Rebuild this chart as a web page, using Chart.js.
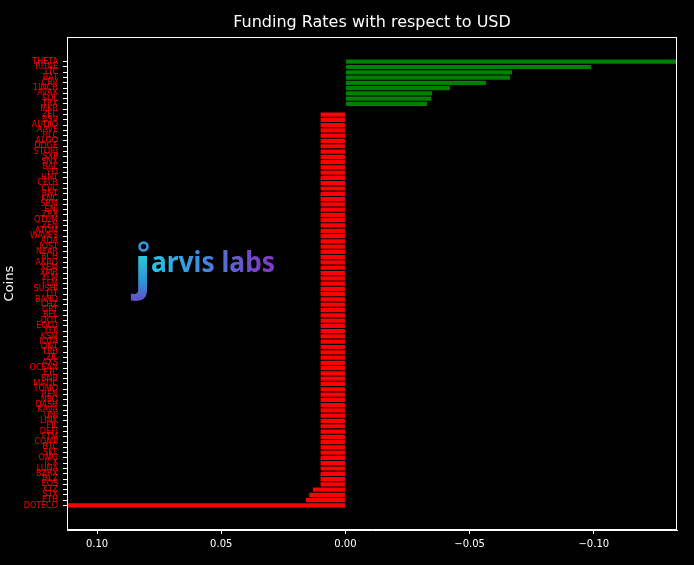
<!DOCTYPE html>
<html>
<head>
<meta charset="utf-8">
<script src="https://cdn.jsdelivr.net/npm/chart.js@4"></script>
<style>
  html, body { margin: 0; padding: 0; background: #000; }
  #wrap { width: 694px; height: 565px; }
</style>
</head>
<body>
<div id="wrap"><canvas id="chartFunding"></canvas></div>
<script>
const coins = ['THETA','RUNE','LTC','BAT','CRV','1INCH','AVAX','SOL','TRX','MKR',
  'ZEC','BSV','AUDIO','AAVE','RLC','ALGO','DOGE','STORJ','SXP','SNX',
  'BAL','YFI','HNT','CELR','CVC','BNT','KNC','SRM','ENJ','ZRX',
  'QTUM','ZEN','ATOM','WAVES','ADA','IOST','NEAR','BCH','AKRO','XEM',
  'XMR','XLM','FLM','SUSHI','LIT','BAND','CHZ','GRT','BEL','DOT',
  'EGLD','YFII','KSM','IOTA','ONT','TRB','ZIL','AXS','OCEAN','ETC',
  'BNB','MATIC','TOMO','REN','NEO','DASH','KAVA','UNI','LINK','FIL',
  'DEFI','FTM','COMP','BTC','SKL','OMG','ICX','LUNA','BZRX','BLZ',
  'EOS','XTZ','STX','ETH','DOTECO'];

const rates = [-0.1335, -0.0989, -0.0671, -0.0663, -0.0566, -0.0421, -0.0349, -0.0345, -0.0329, 0,
  0.01, 0.01, 0.01, 0.01, 0.01, 0.01, 0.01, 0.01, 0.01, 0.01,
  0.01, 0.01, 0.01, 0.01, 0.01, 0.01, 0.01, 0.01, 0.01, 0.01,
  0.01, 0.01, 0.01, 0.01, 0.01, 0.01, 0.01, 0.01, 0.01, 0.01,
  0.01, 0.01, 0.01, 0.01, 0.01, 0.01, 0.01, 0.01, 0.01, 0.01,
  0.01, 0.01, 0.01, 0.01, 0.01, 0.01, 0.01, 0.01, 0.01, 0.01,
  0.01, 0.01, 0.01, 0.01, 0.01, 0.01, 0.01, 0.01, 0.01, 0.01,
  0.01, 0.01, 0.01, 0.01, 0.01, 0.01, 0.01, 0.01, 0.01, 0.01,
  0.01, 0.0131, 0.0146, 0.0159, 0.1121];

const xTicks = [0.10, 0.05, 0.00, -0.05, -0.10];

// white box around the plot, like the matplotlib spines
const frame = {
  id: 'frame',
  afterDatasetsDraw(chart) {
    const a = chart.chartArea, c = chart.ctx;
    c.save();
    c.strokeStyle = '#fff';
    c.lineWidth = 1;
    c.strokeRect(Math.round(a.left) + 0.5, Math.round(a.top) + 0.5,
      Math.round(a.right - a.left) - 1, Math.round(a.bottom - a.top) - 1);
    c.restore();
  }
};

// "jarvis labs" watermark
const logo = {
  id: 'logo',
  afterDatasetsDraw(chart) {
    const c = chart.ctx;
    c.save();
    const g = c.createLinearGradient(150, 0, 276, 0);
    g.addColorStop(0, '#22d0e8');
    g.addColorStop(0.5, '#3b8ee0');
    g.addColorStop(1, '#7b3ec4');
    c.fillStyle = g;
    c.font = 'bold 28px "Noto Sans"';
    c.textBaseline = 'alphabetic';
    c.fillText('arvis labs', 151, 272, 124);
    const gj = c.createLinearGradient(0, 255, 0, 302);
    gj.addColorStop(0, '#2ac6d8');
    gj.addColorStop(0.6, '#2f8fd8');
    gj.addColorStop(1, '#6a48c8');
    c.fillStyle = gj;
    c.font = 'bold 58px "Noto Sans"';
    c.fillText('\u0237', 134, 287);
    c.beginPath();
    c.arc(143.5, 246.5, 4, 0, Math.PI * 2);
    c.strokeStyle = '#2f9ee6';
    c.lineWidth = 2.5;
    c.stroke();
    c.restore();
  }
};

new Chart(document.getElementById('chartFunding'), {
  type: 'bar',
  data: {
    datasets: [{
      data: rates.map((v, i) => ({ x: v, y: i })),
      backgroundColor: rates.map(v => v < 0 ? 'green' : 'red'),
      borderWidth: 0,
      barPercentage: 0.8,
      categoryPercentage: 1.0
    }]
  },
  options: {
    indexAxis: 'y',
    responsive: true,
    maintainAspectRatio: false,
    animation: false,
    layout: { padding: { left: 0, right: 17, top: 0, bottom: 0 } },
    plugins: {
      legend: { display: false },
      tooltip: { enabled: false },
      title: {
        display: true,
        text: 'Funding Rates with respect to USD',
        color: '#fff',
        fullSize: false,
        font: { family: 'DejaVu Sans', size: 16, weight: 'normal' },
        padding: { top: 13, bottom: 5 }
      }
    },
    scales: {
      x: {
        type: 'linear',
        reverse: true,
        min: -0.1335,
        max: 0.1121,
        afterBuildTicks: s => { s.ticks = xTicks.map(v => ({ value: v })); },
        afterFit: s => { s.height = 35; },
        grid: { drawOnChartArea: false, drawTicks: true, tickLength: 4, color: '#fff' },
        border: { color: '#fff' },
        ticks: {
          color: '#fff',
          padding: 4,
          font: { family: 'DejaVu Sans', size: 10 },
          callback: v => (v < 0 ? '\u2212' : '') + Math.abs(v).toFixed(2)
        }
      },
      y: {
        type: 'linear',
        reverse: true,
        offset: false,
        min: -4.64,
        max: coins.length - 1 + 4.64,
        afterBuildTicks: s => { s.ticks = coins.map((c, i) => ({ value: i })); },
        afterFit: s => { s.width = 67; },
        grid: { offset: false, drawOnChartArea: false, drawTicks: true, tickLength: 4, color: '#fff' },
        border: { color: '#fff' },
        title: {
          display: true,
          text: 'Coins',
          color: '#fff',
          font: { family: 'DejaVu Sans', size: 13 },
          padding: { top: 2, bottom: 0 }
        },
        ticks: {
          color: 'red',
          autoSkip: false,
          padding: 5,
          font: { family: 'DejaVu Sans', size: 8 },
          callback: v => coins[v]
        }
      }
    }
  },
  plugins: [frame, logo]
});
</script>
</body>
</html>
